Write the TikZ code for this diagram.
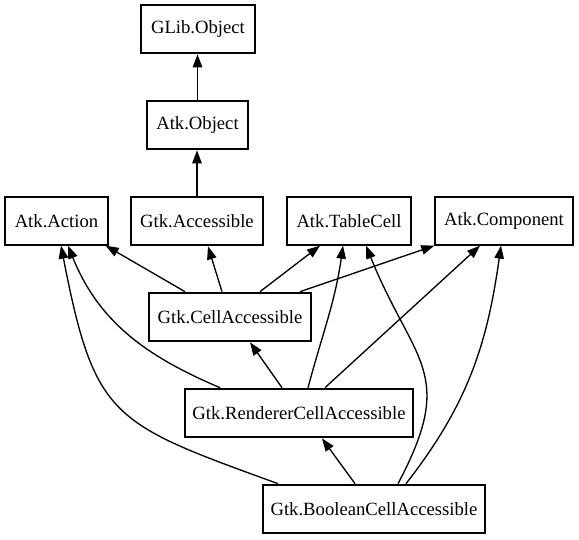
\documentclass[tikz,border=0pt]{standalone}
\usepackage{fontspec}
\setmainfont{Liberation Serif}
\usetikzlibrary{arrows.meta}
\tikzset{
  box/.style={draw, rectangle, minimum height=48pt, inner sep=0pt,
    font=\fontsize{18.67pt}{22pt}\selectfont},
  thinbox/.style={box, line width=1.33pt},
  thickbox/.style={box, line width=2.67pt},
  edge/.style={line width=1.33pt, -{Triangle[length=13pt,width=9.5pt]}}
}
\begin{document}
\begin{tikzpicture}[x=1pt,y=1pt]
\useasboundingbox (0,0) rectangle (579,-539);
\node[thickbox, minimum width=114pt] (glib) at (198,-29) {GLib.Object};
\node[thickbox, minimum width=101pt] (aobj) at (197.5,-125) {Atk.Object};
\node[thinbox, minimum width=103pt] (action) at (56.5,-221) {Atk.Action};
\node[thickbox, minimum width=132pt] (gacc) at (197,-221) {Gtk.Accessible};
\node[thinbox, minimum width=124pt] (tcell) at (349,-221) {Atk.TableCell};
\node[thinbox, minimum width=138pt] (comp) at (504,-221) {Atk.Component};
\node[thickbox, minimum width=162pt] (cell) at (230,-317) {Gtk.CellAccessible};
\node[thickbox, minimum width=228pt] (rend) at (299,-413) {Gtk.RendererCellAccessible};
\node[thickbox, minimum width=222pt] (bool) at (374,-509) {Gtk.BooleanCellAccessible};

\draw[edge] (aobj.north) -- (aobj.north |- glib.south);
\draw[edge] (gacc.north) -- (gacc.north |- aobj.south);
\draw[edge] ([xshift=-45pt]cell.north) -- ([xshift=-3pt]action.south east);
\draw[edge] ([xshift=-8pt]cell.north) -- ([xshift=11pt]gacc.south);
\draw[edge] ([xshift=30pt]cell.north) -- ([xshift=-29pt]tcell.south);
\draw[edge] ([xshift=70pt]cell.north) -- (comp.south west);
\draw[edge] ([xshift=-17pt]rend.north) -- ([xshift=20pt]cell.south);
\draw[edge] ([xshift=-79pt]rend.north) to[out=157,in=-68] ([xshift=11.5pt]action.south);
\draw[edge] ([xshift=9pt]rend.north) to[out=75,in=-98] ([xshift=-6pt]tcell.south);
\draw[edge] ([xshift=26pt]rend.north) -- ([xshift=-24pt]comp.south);
\draw[edge] ([xshift=-19pt]bool.north) -- ([xshift=23pt]rend.south);
\draw[edge] ([xshift=-96pt]bool.north) to[out=160,in=-79,looseness=1.4] ([xshift=4.5pt]action.south);
\draw[edge] ([xshift=24pt]bool.north) to[out=62,in=-68,looseness=1.35] ([xshift=17pt]tcell.south);
\draw[edge] ([xshift=32pt]bool.north) to[out=52,in=-98] ([xshift=-3pt]comp.south);
\end{tikzpicture}
\end{document}
